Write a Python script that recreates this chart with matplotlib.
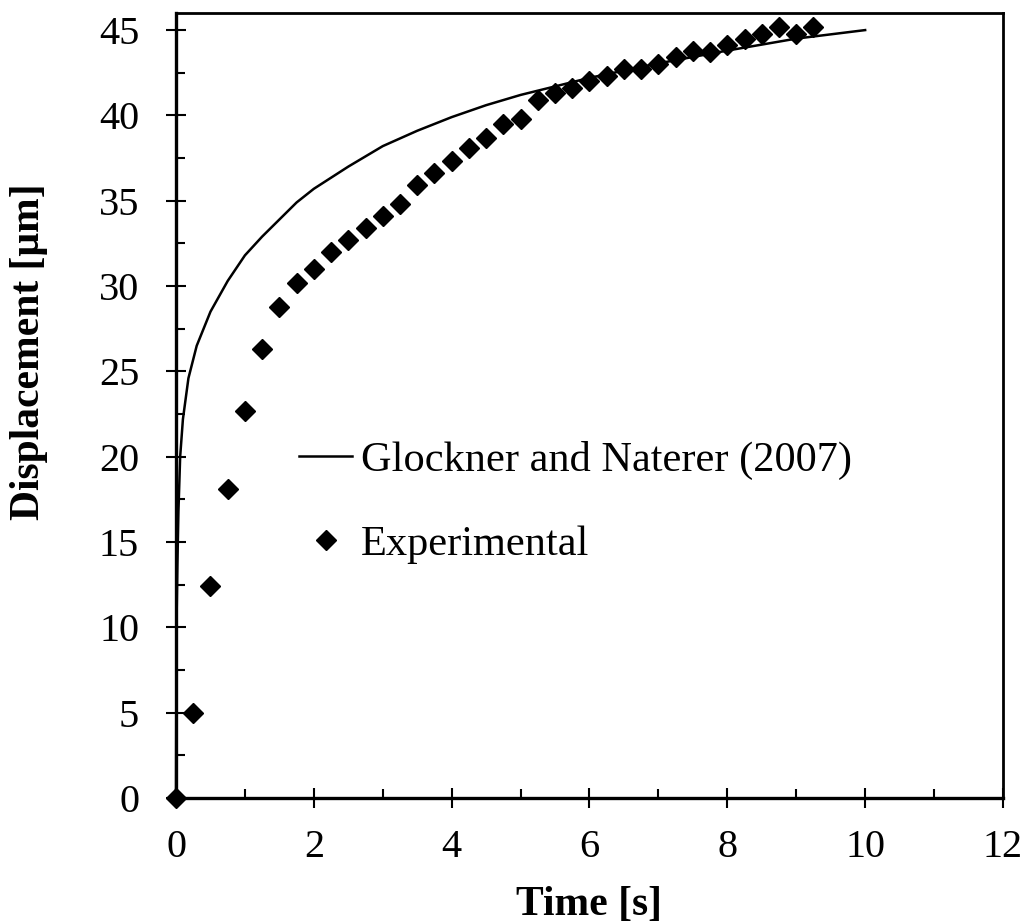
import numpy as np
import matplotlib.pyplot as plt
from matplotlib.ticker import MultipleLocator

plt.rcParams['font.family'] = ['Liberation Serif', 'DejaVu Serif']

# experimental displacement, sampled every 0.25 s
t_exp = [0, 0.25, 0.5, 0.75, 1.0, 1.25, 1.5, 1.75, 2.0, 2.25, 2.5, 2.75,
         3.0, 3.25, 3.5, 3.75, 4.0, 4.25, 4.5, 4.75, 5.0, 5.25, 5.5, 5.75,
         6.0, 6.25, 6.5, 6.75, 7.0, 7.25, 7.5, 7.75, 8.0, 8.25, 8.5, 8.75,
         9.0, 9.25]
d_exp = [0, 5.0, 12.4, 18.1, 22.7, 26.3, 28.8, 30.2, 31.0, 32.0, 32.7, 33.4,
         34.1, 34.8, 35.9, 36.6, 37.3, 38.1, 38.7, 39.5, 39.8, 40.9, 41.3, 41.6,
         42.0, 42.3, 42.7, 42.7, 43.0, 43.4, 43.8, 43.7, 44.1, 44.5, 44.8, 45.2,
         44.8, 45.2]

# Glockner and Naterer (2007) model curve
t_mod = [0, 0.005, 0.01, 0.02, 0.035, 0.06, 0.1, 0.18, 0.3, 0.5, 0.75,
         1.0, 1.25, 1.5, 1.75, 2.0, 2.5, 3.0, 3.5, 4.0, 4.5, 5.0, 5.5,
         6.0, 7.0, 8.0, 9.0, 10.0]
d_mod = [0, 8.0, 11.0, 13.7, 16.8, 20.0, 22.2, 24.6, 26.5, 28.5, 30.3,
         31.8, 32.9, 33.9, 34.9, 35.7, 37.0, 38.2, 39.1, 39.9, 40.6, 41.2, 41.7,
         42.2, 43.05, 43.8, 44.5, 45.0]

fig = plt.figure(figsize=(10.27, 9.24), dpi=100)
ax = fig.add_axes([0.1714, 0.1364, 0.8052, 0.8495])

ax.plot(t_mod, d_mod, color='black', lw=1.8, label='Glockner and Naterer (2007)',
        clip_on=False, zorder=3)
ax.plot(t_exp, d_exp, 'D', color='black', ms=10.5, ls='none', label='Experimental',
        clip_on=False, zorder=4)

ax.set_xlim(0, 12)
ax.set_ylim(0, 46)
ax.xaxis.set_major_locator(MultipleLocator(2))
ax.xaxis.set_minor_locator(MultipleLocator(1))
ax.yaxis.set_major_locator(MultipleLocator(5))
ax.yaxis.set_minor_locator(MultipleLocator(2.5))
ax.tick_params(which='major', direction='inout', length=15, width=1.5,
               labelsize=29)
ax.tick_params(axis='x', which='major', pad=15)
ax.tick_params(axis='y', which='major', pad=19)
ax.tick_params(which='minor', direction='in', length=6.5, width=1.5)
for s in ax.spines.values():
    s.set_linewidth(2.0)
ax.spines['left'].set_linewidth(2.4)
ax.spines['bottom'].set_linewidth(2.4)

ax.set_xlabel('Time [s]', fontsize=30, fontweight='bold')
ax.set_ylabel('Displacement [μm]', fontsize=30, fontweight='bold')
ax.xaxis.set_label_coords(0.5, -0.112)
ax.yaxis.set_label_coords(-0.155, 0.568)

ax.legend(loc='upper left', bbox_to_anchor=(0.149, 0.455), frameon=False,
          fontsize=30.5, handlelength=1.25, handletextpad=0.2, labelspacing=1.08,
          borderpad=0, borderaxespad=0)

fig.savefig('out.png', dpi=100)
